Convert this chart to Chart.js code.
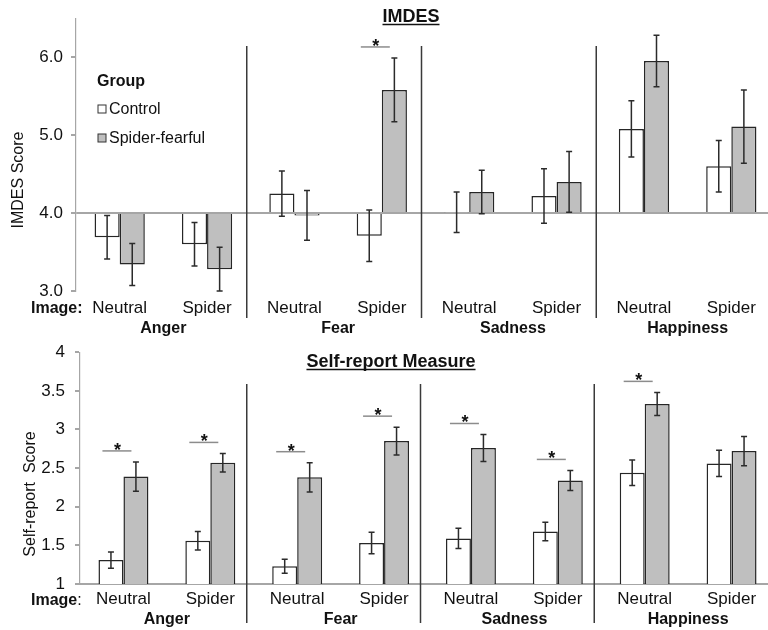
<!DOCTYPE html>
<html>
<head>
<meta charset="utf-8">
<script src="https://cdn.jsdelivr.net/npm/chart.js@4.4.1/dist/chart.umd.min.js"></script>
<style>
  html, body { margin: 0; padding: 0; background: #fff; overflow: hidden; }
  #wrap { position: relative; width: 768px; height: 630px; overflow: hidden; }
  canvas { position: absolute; left: 0; }
  #topChart { top: 0; }
  #bottomChart { top: 332px; }
</style>
</head>
<body>
<div id="wrap">
  <canvas id="topChart" width="775" height="345"></canvas>
  <canvas id="bottomChart" width="775" height="298"></canvas>
</div>
<script>
// categories
var images = ["Neutral", "Spider", "Neutral", "Spider", "Neutral", "Spider", "Neutral", "Spider"];
var emotions = ["Anger", "Fear", "Sadness", "Happiness"];
var groups = ["Control", "Spider-fearful"];

// IMDES scores (means and error bars)
var imdesControl = [3.69, 3.60, 4.25, 3.71, 4.01, 4.22, 5.08, 4.60];
var imdesFearful = [3.34, 3.28, 3.97, 5.58, 4.27, 4.40, 5.95, 5.11];
var imdesControlErr = [0.28, 0.28, 0.29, 0.33, 0.26, 0.35, 0.36, 0.33];
var imdesFearfulErr = [0.27, 0.28, 0.32, 0.41, 0.28, 0.39, 0.33, 0.47];
var imdesSig = [false, false, false, true, false, false, false, false];
var imdesTicks = [3, 4, 5, 6];

// Self-report scores
var selfControl = [1.31, 1.56, 1.23, 1.53, 1.59, 1.68, 2.44, 2.56];
var selfFearful = [2.39, 2.57, 2.38, 2.85, 2.76, 2.34, 3.33, 2.72];
var selfControlErr = [0.105, 0.12, 0.09, 0.14, 0.13, 0.12, 0.165, 0.17];
var selfFearfulErr = [0.19, 0.12, 0.19, 0.18, 0.175, 0.13, 0.15, 0.19];
var selfSig = [true, true, true, true, true, true, true, false];
var selfTicks = [1, 1.5, 2, 2.5, 3, 3.5, 4];

var FONT = "'Liberation Sans', Arial, sans-serif";
var INK = "#111111";
var AXIS = "#a6a6a6";

// draws error bars, significance marks, separators, titles and legend
function panelPlugin(cfg) {
  return {
    id: "panel",
    afterDatasetsDraw: function (chart) {
      var ctx = chart.ctx;
      var x = chart.scales.x, y = chart.scales.y;
      ctx.save();

      // error bars
      ctx.strokeStyle = "#2b2b2b";
      ctx.lineWidth = 1.5;
      chart.data.datasets.forEach(function (ds, d) {
        chart.getDatasetMeta(d).data.forEach(function (bar, i) {
          var hi = y.getPixelForValue(ds.data[i] + ds.errors[i]);
          var lo = y.getPixelForValue(ds.data[i] - ds.errors[i]);
          ctx.beginPath();
          ctx.moveTo(bar.x, hi); ctx.lineTo(bar.x, lo);
          ctx.moveTo(bar.x - 3, hi); ctx.lineTo(bar.x + 3, hi);
          ctx.moveTo(bar.x - 3, lo); ctx.lineTo(bar.x + 3, lo);
          ctx.stroke();
        });
      });

      // significance marks
      cfg.sig.forEach(function (s, i) {
        if (!s) return;
        var top = Infinity;
        chart.data.datasets.forEach(function (ds) {
          top = Math.min(top, y.getPixelForValue(ds.data[i] + ds.errors[i]));
        });
        var cx = x.getPixelForValue(i);
        var ly = top - 11;
        ctx.strokeStyle = "#8c8c8c";
        ctx.lineWidth = 1.5;
        ctx.beginPath();
        ctx.moveTo(cx - 21, ly); ctx.lineTo(cx + 8, ly);
        ctx.stroke();
        ctx.fillStyle = INK;
        ctx.font = "bold 18px " + FONT;
        ctx.textAlign = "center";
        ctx.textBaseline = "alphabetic";
        ctx.fillText("*", cx - 6, ly + 5);
      });

      // separators between emotions
      ctx.strokeStyle = "#3a3a3a";
      ctx.lineWidth = 1.5;
      [1, 3, 5].forEach(function (k) {
        var sx = (x.getPixelForValue(k) + x.getPixelForValue(k + 1)) / 2 + cfg.sepShift;
        ctx.beginPath();
        ctx.moveTo(sx, cfg.sepTop); ctx.lineTo(sx, cfg.sepBottom);
        ctx.stroke();
      });
      ctx.restore();
    },
    afterDraw: function (chart) {
      var ctx = chart.ctx;
      ctx.save();
      ctx.fillStyle = INK;

      // panel title, underlined
      ctx.font = "bold 18px " + FONT;
      ctx.textAlign = "center";
      ctx.textBaseline = "alphabetic";
      ctx.fillText(cfg.title, cfg.titleX, cfg.titleY);
      var w = ctx.measureText(cfg.title).width;
      ctx.strokeStyle = INK;
      ctx.lineWidth = 1.3;
      ctx.beginPath();
      ctx.moveTo(cfg.titleX - w / 2, cfg.titleY + 2.5);
      ctx.lineTo(cfg.titleX + w / 2, cfg.titleY + 2.5);
      ctx.stroke();

      // y axis title
      ctx.save();
      ctx.translate(cfg.yTitleX, cfg.yTitleY);
      ctx.rotate(-Math.PI / 2);
      ctx.font = "16px " + FONT;
      ctx.textBaseline = "middle";
      ctx.fillText(cfg.yTitle, 0, 0);
      ctx.restore();

      // "Image:" label
      ctx.textAlign = "left";
      ctx.font = "bold 16px " + FONT;
      ctx.fillText("Image", 31, cfg.imageY);
      var iw = ctx.measureText("Image").width;
      if (!cfg.colonBold) ctx.font = "16px " + FONT;
      ctx.fillText(":", 31 + iw, cfg.imageY);

      // legend
      if (cfg.legend) {
        ctx.font = "bold 16px " + FONT;
        ctx.fillText("Group", 97, 86);
        chart.data.datasets.forEach(function (ds, d) {
          var by = 114 + d * 29;
          ctx.fillStyle = ds.backgroundColor;
          ctx.fillRect(98, by - 9, 8, 8);
          ctx.strokeStyle = "#333";
          ctx.lineWidth = 1;
          ctx.strokeRect(98, by - 9, 8, 8);
          ctx.fillStyle = INK;
          ctx.font = "16px " + FONT;
          ctx.fillText(ds.label, 109, by);
        });
      }
      ctx.restore();
    }
  };
}

function makeDatasets(control, fearful, controlErr, fearfulErr, base) {
  var common = {
    borderColor: "#262626",
    borderWidth: 1.5,
    borderSkipped: "start",
    barPercentage: 1,
    categoryPercentage: 0.575
  };
  var a = Object.assign({ label: groups[0], data: control, errors: controlErr, backgroundColor: "#ffffff" }, common);
  var b = Object.assign({ label: groups[1], data: fearful, errors: fearfulErr, backgroundColor: "#bfbfbf" }, common);
  if (base !== undefined) { a.base = base; b.base = base; }
  return [a, b];
}

function makeOptions(o) {
  return {
    responsive: false,
    animation: false,
    layout: { padding: o.padding },
    plugins: { legend: { display: false }, tooltip: { enabled: false } },
    scales: {
      x: {
        grid: { display: false, drawTicks: false },
        border: { display: o.xBorder, color: AXIS, width: 2 },
        ticks: { padding: o.xPad, color: INK, font: { family: FONT, size: 17 } },
        afterFit: function (s) { s.height = o.xHeight; }
      },
      x2: {
        type: "category",
        position: "bottom",
        labels: emotions,
        offset: true,
        weight: 1,
        grid: { display: false, drawTicks: false },
        border: { display: false },
        ticks: { padding: 0, color: INK, font: { family: FONT, size: 16, weight: "bold" } },
        afterFit: function (s) { s.height = 20; }
      },
      y: {
        min: o.min,
        max: o.max,
        afterBuildTicks: function (s) { s.ticks = o.ticks.map(function (v) { return { value: v }; }); },
        afterFit: function (s) { s.width = o.yWidth; },
        grid: {
          drawOnChartArea: o.baseLine !== undefined,
          color: function (c) { return c.tick && c.tick.value === o.baseLine ? AXIS : "rgba(0,0,0,0)"; },
          lineWidth: 2,
          tickColor: AXIS,
          tickLength: 5
        },
        border: { display: true, color: AXIS, width: 1.2 },
        ticks: {
          padding: o.yPad,
          color: INK,
          font: { family: FONT, size: 17 },
          callback: o.fmt
        }
      }
    }
  };
}

new Chart(document.getElementById("topChart").getContext("2d"), {
  type: "bar",
  data: { labels: images, datasets: makeDatasets(imdesControl, imdesFearful, imdesControlErr, imdesFearfulErr, 4) },
  options: makeOptions({
    padding: { top: 11, bottom: 6, left: 0, right: 0 },
    xBorder: false, xPad: 7, xHeight: 28,
    min: 3, max: 6.5, ticks: imdesTicks, baseLine: 4,
    yWidth: 76, yPad: 8,
    fmt: function (v) { return Number(v).toFixed(1); }
  }),
  plugins: [panelPlugin({
    sig: imdesSig, sepShift: -4, sepTop: 46, sepBottom: 318,
    title: "IMDES", titleX: 411, titleY: 22,
    yTitle: "IMDES Score", yTitleX: 19, yTitleY: 180,
    imageY: 313, colonBold: true, legend: true
  })]
});

new Chart(document.getElementById("bottomChart").getContext("2d"), {
  type: "bar",
  data: { labels: images, datasets: makeDatasets(selfControl, selfFearful, selfControlErr, selfFearfulErr) },
  options: makeOptions({
    padding: { top: 10, bottom: 0, left: 0, right: 0 },
    xBorder: true, xPad: 5, xHeight: 26,
    min: 1, max: 4, ticks: selfTicks,
    yWidth: 80, yPad: 10,
    fmt: function (v) { return String(v); }
  }),
  plugins: [panelPlugin({
    sig: selfSig, sepShift: -7, sepTop: 52, sepBottom: 291,
    title: "Self-report Measure", titleX: 391, titleY: 35,
    yTitle: "Self-report  Score", yTitleX: 31, yTitleY: 162,
    imageY: 273, colonBold: false, legend: false
  })]
});
</script>
</body>
</html>
